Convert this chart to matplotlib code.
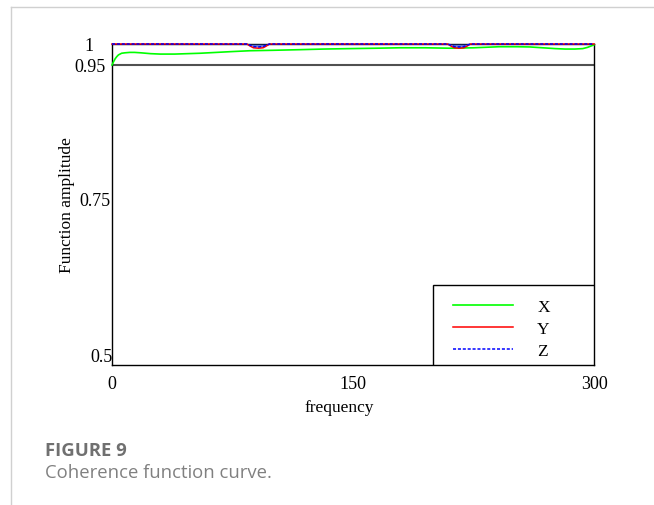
import matplotlib.pyplot as plt
import numpy as np

# coherence values
x_freq = [0, 1, 2, 3, 4, 6, 8, 11, 14, 18, 24, 30, 39, 47, 55, 65, 75, 86, 100, 117,
          132, 148, 165, 179, 195, 210, 225, 241, 252, 260, 268, 276, 282, 288, 293,
          296, 298, 300]
x_amp = [0.950, 0.958, 0.965, 0.970, 0.974, 0.978, 0.979, 0.980, 0.980, 0.979, 0.977,
         0.976, 0.976, 0.977, 0.978, 0.980, 0.982, 0.984, 0.985, 0.9865, 0.988, 0.989,
         0.990, 0.991, 0.991, 0.990, 0.991, 0.9935, 0.9935, 0.993, 0.991, 0.989, 0.988,
         0.988, 0.989, 0.992, 0.995, 0.998]

yz_freq = [0, 84, 86, 88, 91, 94, 96, 98, 209, 211, 213, 216, 219, 221, 223, 300]
y_amp = [1, 1, 0.995, 0.991, 0.990, 0.991, 0.995, 1, 1, 0.995, 0.991, 0.990, 0.991,
         0.995, 1, 1]
z_amp = [1, 1, 0.997, 0.994, 0.993, 0.994, 0.997, 1, 1, 0.997, 0.994, 0.993, 0.994,
         0.997, 1, 1]

y_ticks = [0.5, 0.75, 0.95, 1]
y_labels = ["0.5", "0.75", "0.95", "1"]
x_ticks = [0, 150, 300]

# the original axis is not linear: tick values -> pixel heights above the bottom
scale_vals = [0.484, 0.5, 0.75, 0.95, 1.0]
scale_pos = [0, 10, 166, 300, 321]


def forward(v):
    return np.interp(v, scale_vals, scale_pos)


def inverse(p):
    return np.interp(p, scale_pos, scale_vals)


plt.rcParams["font.family"] = ["Liberation Serif", "DejaVu Serif"]

fig = plt.figure(figsize=(6.54, 5.06), dpi=100)
ax = fig.add_axes([112 / 654, 140 / 506, 482 / 654, 321 / 506])

ax.set_yscale("function", functions=(forward, inverse))
ax.set_xlim(0, 300)
ax.set_ylim(0.484, 1.0)

ax.axhline(0.95, color="#505050", lw=1.5, zorder=1)
ax.plot(x_freq, x_amp, color="#00ff00", lw=1.2, label="X", clip_on=False, zorder=3)
ax.fill_between(yz_freq, z_amp, 1, color="#3050d0", alpha=0.7, lw=0, zorder=3)
ax.plot(yz_freq, y_amp, color="red", lw=1.1, label="Y", clip_on=False, zorder=3)
ax.plot(yz_freq, z_amp, color="blue", lw=1.1, ls=(0, (2, 1.2)), label="Z",
        clip_on=False, zorder=3)

ax.set_yticks(y_ticks)
ax.set_yticklabels(y_labels)
ax.set_xticks(x_ticks)
ax.tick_params(length=0, labelsize=13, pad=1)
ax.tick_params(axis="x", pad=7)

# the source places its y labels a little unevenly
ylabs = ax.get_yticklabels()
ylabs[0].set_x(2 / 482)
ylabs[2].set_x(-5 / 482)
ylabs[3].set_x(-22 / 482)
ylabs[3].set_ha("center")

for s in ax.spines.values():
    s.set_linewidth(1.0)

ax.set_ylabel("Function amplitude", fontsize=12.5)
ax.yaxis.set_label_coords(-0.077, 0.5)
ax.set_xlabel("frequency", fontsize=12.5)
ax.xaxis.set_label_coords(0.472, -0.105)

# legend box drawn by hand, entries placed inside it
ax.add_patch(plt.Rectangle((0.666, 0), 0.334, 0.25, transform=ax.transAxes,
                           facecolor="white", edgecolor="black", lw=1.0, zorder=4))
leg = ax.legend(loc="upper left", bbox_to_anchor=(0.7075, 0.207), borderaxespad=0,
                frameon=False, fontsize=12.5, handlelength=3.45, handletextpad=1.4,
                labelspacing=0.34, borderpad=0, handleheight=0.7)
leg.set_zorder(5)

# page frame and caption
fig.add_artist(plt.Line2D([11 / 654, 1], [1 - 8 / 506, 1 - 8 / 506], color="#d0d0d0", lw=1))
fig.add_artist(plt.Line2D([11 / 654, 11 / 654], [0, 1 - 8 / 506], color="#d0d0d0", lw=1))
fig.text(45 / 654, 1 - 451 / 506, "FIGURE 9", family="Open Sans", fontweight="bold",
         fontsize=13.3, color="#707070", va="center")
fig.text(45 / 654, 1 - 473 / 506, "Coherence function curve.", family="Open Sans",
         fontsize=13.3, color="#808080", va="center")

fig.savefig("out.png", dpi=100)
